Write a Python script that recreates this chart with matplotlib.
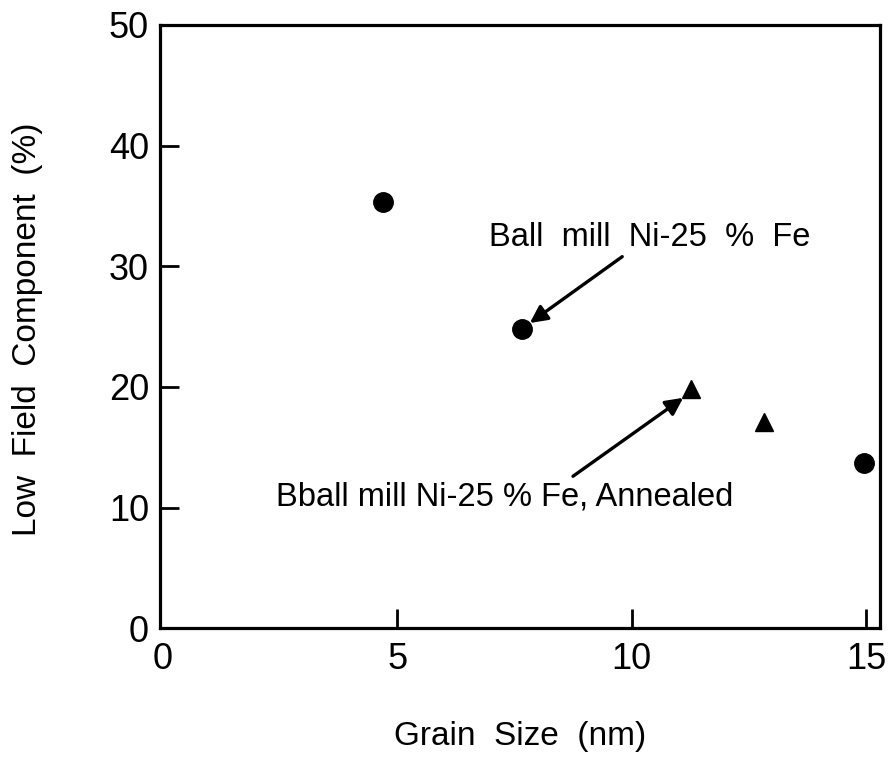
import matplotlib.pyplot as plt

# ball milled samples (circles) and annealed samples (triangles)
milled_size = [4.71, 7.67, 14.95]
milled_low = [35.3, 24.8, 13.7]
annealed_size = [11.26, 12.82]
annealed_low = [19.8, 17.1]

x_ticks = [0, 5, 10, 15]
y_ticks = [0, 10, 20, 30, 40, 50]

plt.rcParams['font.family'] = ['Liberation Sans', 'DejaVu Sans']

fig = plt.figure(figsize=(8.9, 7.57), dpi=100)
ax = fig.add_axes([0.18, 0.170, 0.809, 0.797])

ax.plot(milled_size, milled_low, 'ko', markersize=14)
ax.plot(annealed_size, annealed_low, 'k^', markersize=13)

arrow = dict(arrowstyle='-|>', color='k', lw=2.4, mutation_scale=26,
             shrinkA=0, shrinkB=0)
ax.annotate('', xy=(7.83, 25.3), xytext=(9.8, 30.8), arrowprops=arrow)
ax.annotate('', xy=(11.1, 19.1), xytext=(8.75, 12.6), arrowprops=arrow)
ax.text(10.39, 32.4, 'Ball  mill  Ni-25  %  Fe', fontsize=23.5,
        ha='center', va='center')
ax.text(7.3, 10.9, 'Bball mill Ni-25 % Fe, Annealed', fontsize=23.5,
        ha='center', va='center')

ax.set_xlim(-0.05, 15.3)
ax.set_ylim(0, 50)
ax.set_xticks(x_ticks)
ax.set_yticks(y_ticks)
ax.tick_params(direction='in', length=14, width=2, labelsize=26, pad=8)
ax.tick_params(axis='x', pad=10)
# no tick marks on the corners, only the labels
ax.xaxis.get_major_ticks()[0].tick1line.set_visible(False)
ax.yaxis.get_major_ticks()[0].tick1line.set_visible(False)
ax.yaxis.get_major_ticks()[-1].tick1line.set_visible(False)
for s in ax.spines.values():
    s.set_linewidth(2.3)

ax.set_xlabel('Grain  Size  (nm)', fontsize=24)
ax.set_ylabel('Low  Field  Component  (%)', fontsize=24)
ax.xaxis.set_label_coords(0.5, -0.153)
ax.yaxis.set_label_coords(-0.163, 0.496)

fig.savefig('out.png', dpi=100)
